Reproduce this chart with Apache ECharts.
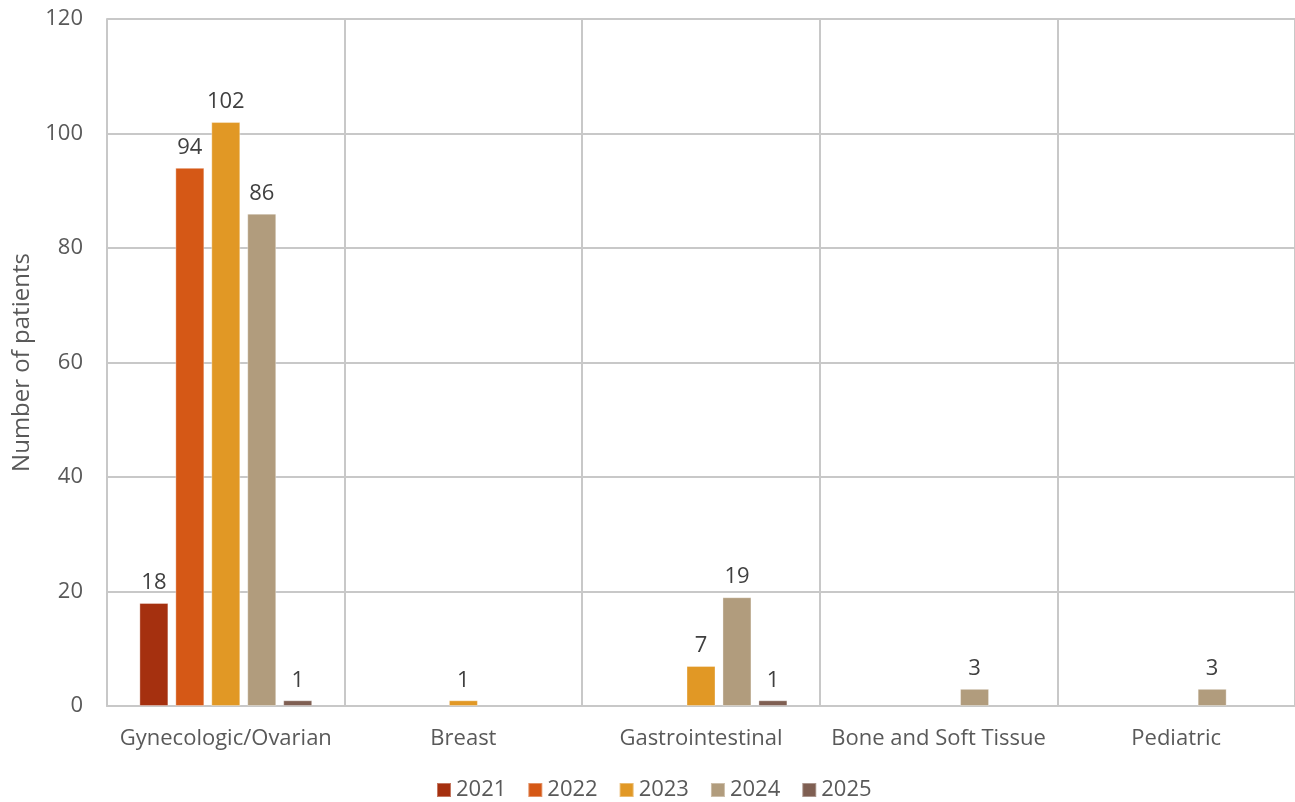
<!DOCTYPE html>
<html>
<head>
<meta charset="utf-8">
<script src="https://cdn.jsdelivr.net/npm/echarts@6/dist/echarts.min.js"></script>
<style>html,body{margin:0;padding:0;background:#fff}#c{width:1295px;height:802px}</style>
</head>
<body>
<div id="c"></div>
<script>
const categories = ['Gynecologic/Ovarian', 'Breast', 'Gastrointestinal', 'Bone and Soft Tissue', 'Pediatric'];
const years = ['2021', '2022', '2023', '2024', '2025'];
const v2021 = [18, null, null, null, null];
const v2022 = [94, null, null, null, null];
const v2023 = [102, 1, 7, null, null];
const v2024 = [86, null, 19, 3, 3];
const v2025 = [1, null, 1, null, null];
const yTicks = [0, 20, 40, 60, 80, 100, 120];
const colors = ['#A5300F', '#D55816', '#E19825', '#B19C7D', '#7F5F52'];
const seriesValues = [v2021, v2022, v2023, v2024, v2025];
const font = 'Open Sans, Liberation Sans, sans-serif';

const chart = echarts.init(document.getElementById('c'));
chart.setOption({
  animation: false,
  color: colors,
  textStyle: { fontFamily: font },
  grid: { left: 107, right: 0, top: 19, bottom: 96, containLabel: false, outerBoundsMode: 'none' },
  legend: {
    top: 774, left: 431,
    icon: 'rect', itemWidth: 14, itemHeight: 14, itemGap: 21,
    textStyle: { fontSize: 22, color: '#595959', fontFamily: font },
    data: years
  },
  xAxis: {
    type: 'category',
    data: categories,
    axisLine: { show: true, lineStyle: { color: '#C8C8C8', width: 2 } },
    axisTick: { show: false },
    splitLine: { show: true, interval: 0, lineStyle: { color: '#C8C8C8', width: 2 } },
    axisLabel: { fontSize: 22, color: '#595959', margin: 22, interval: 0 }
  },
  yAxis: {
    type: 'value', min: yTicks[0], max: yTicks[yTicks.length - 1], interval: 20,
    name: 'Number of patients', nameLocation: 'middle', nameGap: 72, nameRotate: 90,
    nameTextStyle: { fontSize: 24, color: '#595959' },
    axisLine: { show: true, lineStyle: { color: '#C8C8C8', width: 2 } },
    axisTick: { show: false },
    splitLine: { show: true, lineStyle: { color: '#C8C8C8', width: 2 } },
    axisLabel: { fontSize: 22, color: '#595959', margin: 24 }
  },
  series: years.map((y, i) => ({
    name: y,
    type: 'bar',
    data: seriesValues[i],
    barWidth: 29,
    barGap: '24%',
    itemStyle: { color: colors[i], borderColor: 'rgba(255,255,255,0.35)', borderWidth: 1 },
    label: { show: true, position: 'top', distance: 9, fontSize: 22, color: '#404040' }
  }))
});
</script>
</body>
</html>
